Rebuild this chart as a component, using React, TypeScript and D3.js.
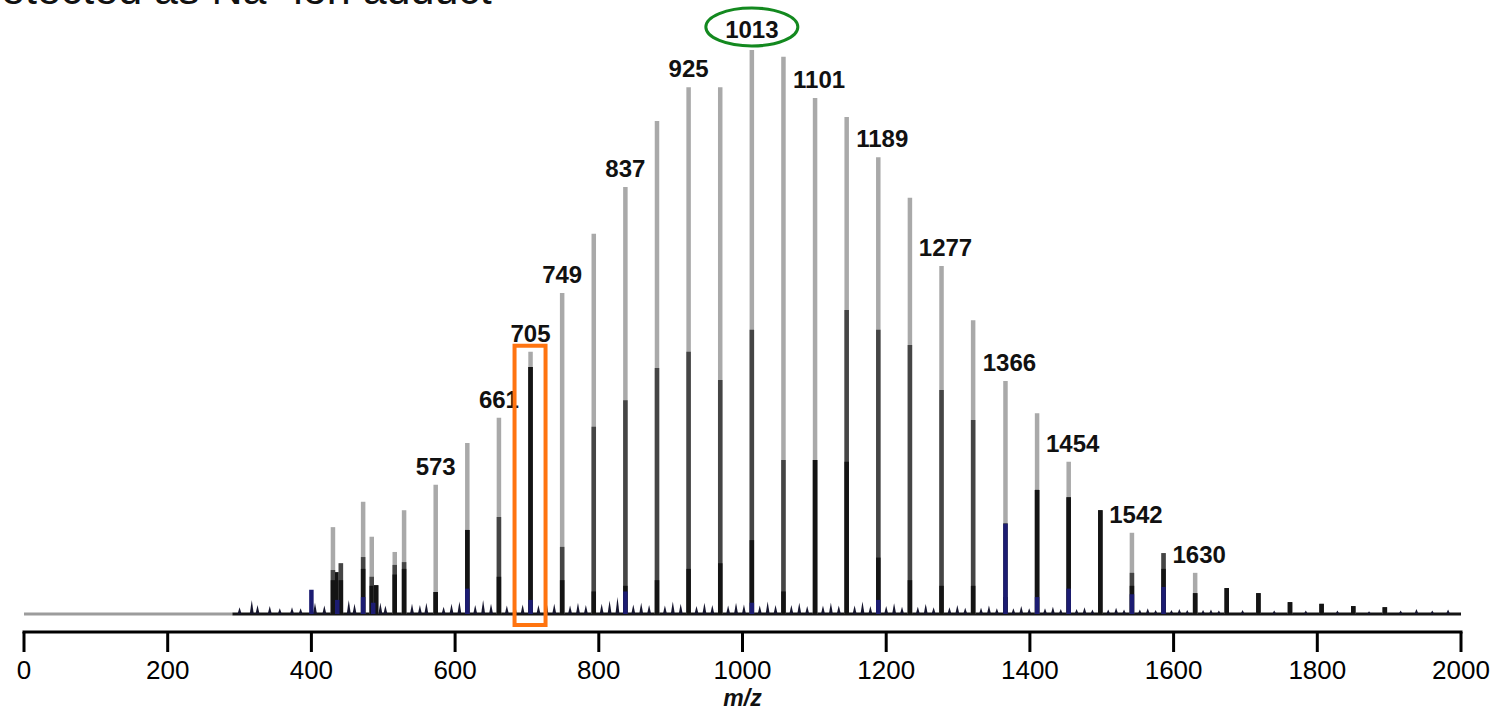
import React from "react";
import * as d3 from "d3";

// ---- data ----
const titleText = "Detected as Na\u207A ion adduct";
const xTickValues = [0, 200, 400, 600, 800, 1000, 1200, 1400, 1600, 1800, 2000];
const xAxisTitle = "m/z";

// main peaks (m/z) and relative intensities of the overlaid traces
const peakMz = [430, 436, 441, 472, 484, 490, 516, 529, 573, 617, 661, 705, 749, 793, 837, 881, 925, 969, 1013, 1057, 1101, 1145, 1189, 1233, 1277, 1321, 1366, 1410, 1454, 1498, 1542, 1586, 1630, 1674, 1718, 1762, 1806, 1850, 1894];
const greyTrace = [15.4, 7.4, 9.0, 19.9, 13.7, 5.1, 11.0, 18.4, 22.9, 30.3, 34.8, 46.5, 56.9, 67.4, 75.7, 87.4, 93.4, 93.4, 100, 98.8, 91.5, 88.1, 81.0, 73.8, 61.7, 52.1, 41.3, 35.6, 27.0, 18.4, 14.4, 10.8, 7.3, 4.6, 3.7, 2.1, 1.8, 1.4, 1.2];
const darkTrace = [7.8, 7.4, 9.0, 10.1, 6.6, 5.1, 8.7, 9.2, 3.9, 14.9, 17.2, 43.8, 11.9, 33.2, 37.9, 43.6, 46.5, 41.5, 50.4, 27.3, 27.3, 53.9, 50.4, 47.7, 39.7, 34.4, 16.1, 22.0, 20.7, 18.4, 7.3, 10.8, 3.7, 4.6, 3.7, 2.1, 1.8, 1.4, 1.2];
const blackTrace = [6.0, 7.4, 6.0, 8.0, 5.0, 5.1, 7.0, 8.0, 3.9, 14.9, 6.6, 43.8, 6.0, 4.0, 5.0, 6.0, 8.0, 9.0, 13.1, 4.0, 27.3, 27.0, 10.0, 6.0, 5.0, 5.0, 3.0, 22.0, 20.7, 18.4, 5.0, 8.0, 3.7, 4.6, 3.7, 2.1, 1.8, 1.4, 1.2];

// navy trace (small, at the base)
const navyMz = [400, 436, 472, 486, 617, 705, 837, 1013, 1189, 1366, 1410, 1454, 1542, 1586];
const navyTrace = [4.3, 2.5, 3.0, 2.0, 4.5, 2.5, 4.0, 2.0, 2.5, 16.0, 3.0, 4.5, 3.5, 4.8];

// minor peaks / noise on the baseline
const minorMz = [300, 317, 325, 342, 356, 373, 385, 405, 418, 452, 460, 496, 503, 540, 551, 560, 584, 595, 606, 628, 639, 650, 672, 683, 694, 716, 727, 738, 760, 771, 782, 804, 815, 826, 848, 859, 870, 892, 903, 914, 936, 947, 958, 980, 991, 1002, 1024, 1035, 1046, 1068, 1079, 1090, 1112, 1123, 1134, 1156, 1167, 1178, 1200, 1211, 1222, 1244, 1255, 1266, 1288, 1299, 1310, 1332, 1343, 1354, 1377, 1388, 1399, 1421, 1432, 1443, 1465, 1476, 1487, 1509, 1520, 1531, 1553, 1564, 1575, 1597, 1608, 1619, 1641, 1652, 1663, 1696, 1740, 1784, 1828, 1872, 1916, 1938, 1960, 1982];
const minorTrace = [1.2, 2.5, 1.6, 1.4, 1.0, 1.2, 1.0, 2.0, 1.5, 2.5, 1.8, 2.0, 1.5, 1.8, 1.6, 2.0, 1.3, 1.8, 2.2, 1.6, 2.5, 1.8, 1.5, 2.2, 1.7, 1.6, 2.4, 1.8, 1.5, 2.0, 1.6, 1.8, 2.4, 3.0, 1.7, 2.0, 1.6, 1.5, 2.2, 1.8, 1.4, 2.0, 1.6, 1.5, 2.0, 1.7, 1.5, 2.2, 1.6, 1.6, 2.0, 1.4, 1.5, 2.0, 1.5, 1.5, 2.2, 1.4, 1.4, 1.9, 1.3, 1.3, 1.8, 1.2, 1.2, 1.6, 1.1, 1.1, 1.5, 1.0, 1.0, 1.4, 1.0, 1.0, 1.3, 0.9, 0.9, 1.2, 0.8, 0.8, 1.1, 0.8, 0.8, 1.0, 0.7, 0.7, 0.9, 0.7, 0.7, 0.8, 0.6, 0.7, 0.6, 0.6, 0.6, 0.5, 0.6, 0.9, 0.6, 0.8];

// labelled peaks
const labelMz = [573, 661, 705, 749, 837, 925, 1013, 1101, 1189, 1277, 1366, 1454, 1542, 1630];
const circledMz = 1013;
const boxedMz = 705;

const W = 1494;
const H = 710;
const FONT = "'Liberation Sans', Arial, Helvetica, sans-serif";

export default function App() {
  const x = d3.scaleLinear().domain([0, 2000]).range([24, 1461]);
  const y = d3.scaleLinear().domain([0, 100]).range([614, 50]);
  const base = y(0);
  const axisY = 632;

  const tri = (mz: number, v: number, hw: number) => {
    const p = d3.path();
    p.moveTo(x(mz) - hw, base);
    p.lineTo(x(mz), y(v));
    p.lineTo(x(mz) + hw, base);
    p.closePath();
    return p.toString();
  };

  const intensityAt = (mz: number) => greyTrace[peakMz.indexOf(mz)];

  return (
    <svg
      width={W}
      height={H}
      viewBox={`0 0 ${W} ${H}`}
      style={{ position: "absolute", left: 0, top: 0, background: "#fff" }}
    >
      <rect x={0} y={0} width={W} height={H} fill="#fff" />
      {/* title, cut at the top */}
      <text x={-30} y={4} fontFamily={FONT} fontSize={43} fill="#111">
        {titleText}
      </text>

      {/* baseline */}
      <line x1={x(0)} x2={x(290)} y1={base} y2={base} stroke="#9c9c9c" strokeWidth={3} />
      <line x1={x(290)} x2={x(2000)} y1={base} y2={base} stroke="#151515" strokeWidth={3} />

      {/* minor peaks */}
      {minorMz.map((mz, i) => (
        <path key={"m" + i} d={tri(mz, minorTrace[i], 2)} fill="#16162e" />
      ))}

      {/* main peaks: grey, dark, black overlaid */}
      {peakMz.map((mz, i) => (
        <g key={"p" + i}>
          <line x1={x(mz)} x2={x(mz)} y1={base} y2={y(greyTrace[i])} stroke="#a9a9a9" strokeWidth={4.5} />
          <line x1={x(mz)} x2={x(mz)} y1={base} y2={y(darkTrace[i])} stroke="#454545" strokeWidth={4.5} />
          <line x1={x(mz)} x2={x(mz)} y1={base} y2={y(blackTrace[i])} stroke="#141414" strokeWidth={4.5} />
        </g>
      ))}

      {/* navy trace */}
      {navyMz.map((mz, i) => (
        <line key={"n" + i} x1={x(mz)} x2={x(mz)} y1={base} y2={y(navyTrace[i])} stroke="#1c1c72" strokeWidth={4.5} />
      ))}

      {/* peak labels */}
      {labelMz.map((mz) => {
        const top = y(intensityAt(mz));
        const dx = mz > circledMz ? 4 : 0;
        return (
          <text
            key={"l" + mz}
            x={x(mz) + dx}
            y={mz === circledMz ? top - 12 : top - 10}
            textAnchor="middle"
            fontFamily={FONT}
            fontWeight="bold"
            fontSize={24}
            fill="#111"
          >
            {mz}
          </text>
        );
      })}

      {/* green ellipse around the base peak */}
      <ellipse cx={x(circledMz)} cy={y(100) - 23} rx={46} ry={19} fill="none" stroke="#13891f" strokeWidth={3} />

      {/* orange box around 705 */}
      <rect
        x={x(boxedMz) - 16}
        y={y(intensityAt(boxedMz)) - 6}
        width={31}
        height={axisY - 7 - (y(intensityAt(boxedMz)) - 6)}
        fill="none"
        stroke="#ff7410"
        strokeWidth={4}
      />

      {/* x axis */}
      <line x1={x(0) - 1.5} x2={x(2000) + 1.5} y1={axisY} y2={axisY} stroke="#000" strokeWidth={3} />
      {xTickValues.map((t) => (
        <g key={"t" + t}>
          <line x1={x(t)} x2={x(t)} y1={axisY} y2={axisY + 20} stroke="#000" strokeWidth={3} />
          <text x={x(t)} y={679} textAnchor="middle" fontFamily={FONT} fontSize={26} fill="#000">
            {t}
          </text>
        </g>
      ))}
      <text x={x(1000)} y={706} textAnchor="middle" fontFamily={FONT} fontStyle="italic" fontWeight="bold" fontSize={23} fill="#111">
        {xAxisTitle}
      </text>
    </svg>
  );
}
